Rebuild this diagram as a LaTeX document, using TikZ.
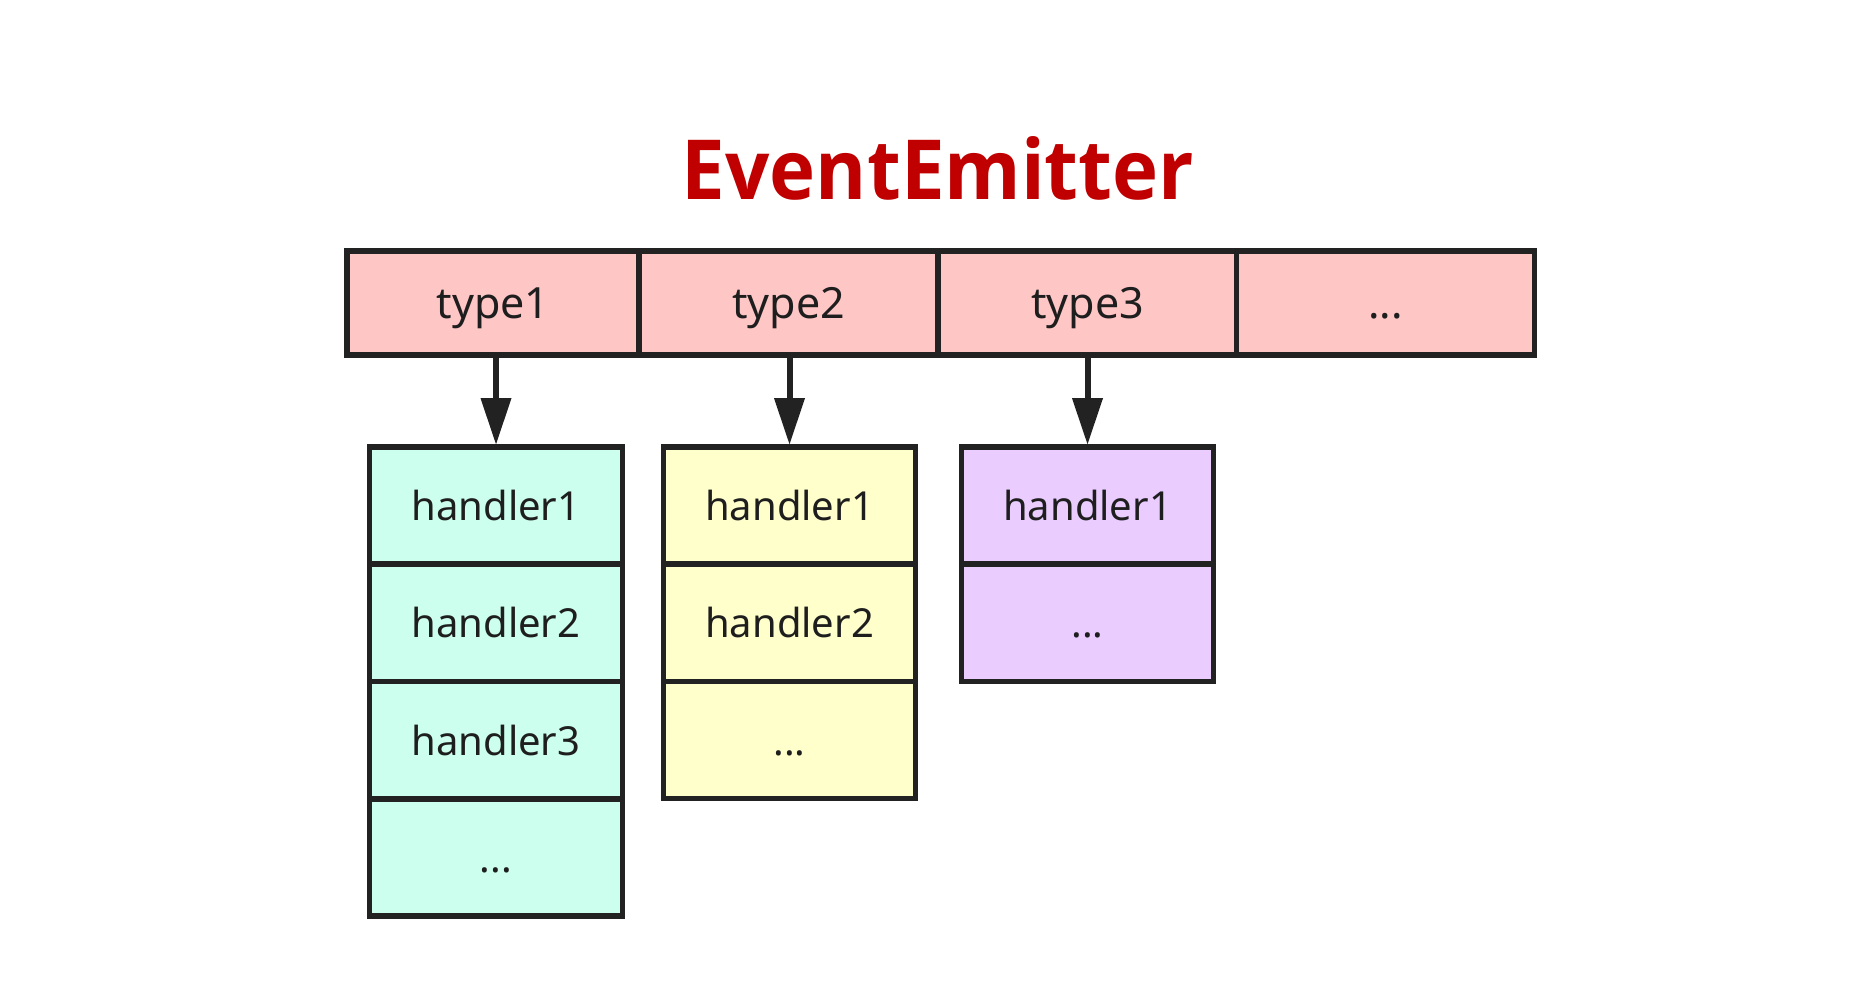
\documentclass[tikz,border=0pt]{standalone}
\usepackage{fontspec}
\setmainfont{Noto Sans}
\newfontfamily\titlefont{Open Sans}
\usetikzlibrary{arrows.meta}
\definecolor{pinkf}{HTML}{FFC6C6}
\definecolor{mintf}{HTML}{CCFFEE}
\definecolor{yellowf}{HTML}{FFFFCC}
\definecolor{purplef}{HTML}{EACCFF}
\definecolor{linec}{HTML}{222222}
\definecolor{textc}{HTML}{1E1E1E}
\definecolor{titlec}{HTML}{C00000}
\begin{document}
\begin{tikzpicture}[x=1pt,y=-1pt,
  box/.style={draw=linec, line width=5.5pt, inner sep=0pt,
    font=\fontsize{40}{48}\selectfont, text=textc,
    text height=32pt, text depth=2pt},
  typebox/.style={box, fill=pinkf, minimum height=104pt,
    font=\fontsize{43}{50}\selectfont},
  hbox/.style={box, minimum height=117.25pt, minimum width=252pt},
  arr/.style={draw=linec, line width=6pt,
    -{Triangle[length=46pt,width=31pt,line width=0pt]}}
]
\useasboundingbox (0,0) rectangle (1873,984);
\fill[white] (0,0) rectangle (1873,984);

\node[text=titlec, anchor=base, inner sep=0pt]
  (title) at (938,200) {\resizebox{512pt}{63pt}{\titlefont\bfseries EventEmitter}};

% type row
\node[typebox, minimum width=292pt] (t1) at (493,303) {type1};
\node[typebox, minimum width=299pt] (t2) at (788.5,303) {type2};
\node[typebox, minimum width=299pt] (t3) at (1087.5,303) {type3};
\node[typebox, minimum width=298pt] (t4) at (1385.5,303) {...};

% column 1
\node[hbox, fill=mintf, minimum width=253pt] (a1) at (496,505.6) {handler1};
\node[hbox, fill=mintf, minimum width=253pt] (a2) at (496,622.9) {handler2};
\node[hbox, fill=mintf, minimum width=253pt] (a3) at (496,740.1) {handler3};
\node[hbox, fill=mintf, minimum width=253pt] (a4) at (496,857.4) {...};

% column 2
\node[hbox, fill=yellowf] (b1) at (789.5,505.6) {handler1};
\node[hbox, fill=yellowf] (b2) at (789.5,622.9) {handler2};
\node[hbox, fill=yellowf] (b3) at (789.5,740.1) {...};

% column 3
\node[hbox, fill=purplef] (c1) at (1087.5,505.6) {handler1};
\node[hbox, fill=purplef] (c2) at (1087.5,622.9) {...};

% arrows
\draw[arr] (t1.south -| a1.north) -- (a1.north);
\draw[arr] (t2.south -| b1.north) -- (b1.north);
\draw[arr] (t3.south -| c1.north) -- (c1.north);
\end{tikzpicture}
\end{document}
